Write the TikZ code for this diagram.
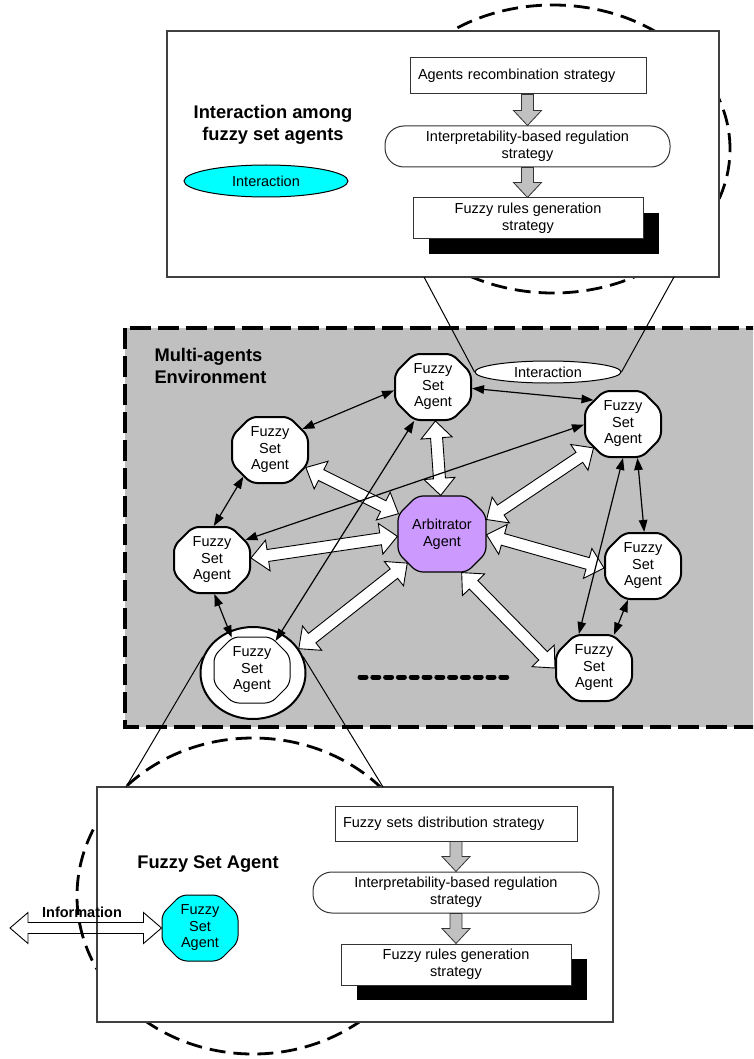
\documentclass[tikz,border=0pt]{standalone}
\usepackage{fontspec}
\setsansfont{Liberation Sans}
\usepackage{tikz}
\usetikzlibrary{arrows.meta, calc, positioning, shapes.geometric, shapes.misc, shadows}
\tikzset{every picture/.style={/utils/exec={\sffamily}}}
\definecolor{envgray}{HTML}{C0C0C0}
\definecolor{arbpurple}{HTML}{CC99FF}
\definecolor{agentcyan}{HTML}{00FFFF}

% fat arrows: style, half shaft, half head, head length, from, to
\newcommand{\fatdouble}[6]{%
  \path[#1] (#5)
    -- ($(#5)!#4!(#6)!#3!90:(#6)$)
    -- ($(#5)!#4!(#6)!#2!90:(#6)$)
    -- ($(#6)!#4!(#5)!#2!-90:(#5)$)
    -- ($(#6)!#4!(#5)!#3!-90:(#5)$)
    -- (#6)
    -- ($(#6)!#4!(#5)!#3!90:(#5)$)
    -- ($(#6)!#4!(#5)!#2!90:(#5)$)
    -- ($(#5)!#4!(#6)!#2!-90:(#6)$)
    -- ($(#5)!#4!(#6)!#3!-90:(#6)$)
    -- cycle;}
\newcommand{\fatsingle}[6]{%
  \path[#1] ($(#5)!#2!90:(#6)$)
    -- ($(#6)!#4!(#5)!#2!-90:(#5)$)
    -- ($(#6)!#4!(#5)!#3!-90:(#5)$)
    -- (#6)
    -- ($(#6)!#4!(#5)!#3!90:(#5)$)
    -- ($(#6)!#4!(#5)!#2!90:(#5)$)
    -- ($(#5)!#2!-90:(#6)$)
    -- cycle;}

\begin{document}
\begin{tikzpicture}[x=1pt, y=-1pt, >={Triangle[length=12pt, width=8.5pt]},
    agent/.style={chamfered rectangle, chamfered rectangle xsep=9pt, chamfered rectangle ysep=10pt,
        rounded corners=6pt, draw, line width=2pt, fill=white, minimum width=76pt, minimum height=66pt,
        inner sep=0pt, align=center, font=\fontsize{14.5}{16.5}\selectfont},
    strat/.style={draw=black!80, line width=1pt, fill=white, inner sep=0pt, align=center,
        font=\fontsize{14.5}{17}\selectfont},
    stadium/.style={strat, rounded corners=19pt},
    castshadow/.style={drop shadow={shadow xshift=16pt, shadow yshift=-15pt, opacity=1, fill=black}},
    zoombox/.style={draw=black!75, line width=1.1pt, fill=white},
    lensdash/.style={line width=2.8pt, dash pattern=on 16pt off 8pt},
    envbox/.style={fill=envgray, line width=3.5pt, dash pattern=on 21pt off 7pt},
    heading/.style={font=\bfseries\fontsize{18.3}{22.5}\selectfont},
    fatarrow/.style={draw, fill=white, line width=0.9pt},
    flowarrow/.style={draw=black!80, fill=envgray, line width=0.8pt},
    infoarrow/.style={draw, line width=0.9pt},
    thinlink/.style={<->, line width=1.2pt},
    zoomline/.style={line width=1pt},
    dotline/.style={line width=5pt, dash pattern=on 6pt off 6.8pt, line cap=round}]
    \clip (0,0) rectangle (753,1059);

    % Zoom lenses
    \draw[lensdash] (553,149) ellipse [x radius=177pt, y radius=144pt];
    \draw[lensdash] (253,896) ellipse [x radius=176pt, y radius=158pt];

    % Upper zoom box
    \node[zoombox, minimum width=552pt, minimum height=246pt] (zoomtop) at (443,154) {};
    \node[heading, align=center] (titletop) at (273,125) {Interaction among\\fuzzy set agents};
    \node[ellipse, draw, line width=1pt, fill=agentcyan, minimum width=164pt, minimum height=32pt,
        inner sep=0pt, font=\fontsize{14.5}{17}\selectfont] (intertop) at (266,181) {Interaction};
    \node[strat, minimum width=236pt, minimum height=36pt, text width=220pt, align=left] (agentsrec) at (528,76) {Agents recombination strategy};
    \node[stadium, minimum width=285pt, minimum height=41pt] (interp) at (527.5,146.5) {Interpretability-based regulation\\strategy};
    \node[strat, castshadow, minimum width=230pt, minimum height=41pt] (rulesgen) at (528,218.5) {Fuzzy rules generation\\strategy};
    \coordinate (f1) at (interp.north |- agentsrec.south);
    \coordinate (f2) at (interp.south |- rulesgen.north);
    \fatsingle{flowarrow}{6pt}{14pt}{15pt}{f1}{interp.north}
    \fatsingle{flowarrow}{6pt}{14pt}{15pt}{interp.south}{f2}

    % Lower zoom box
    \node[zoombox, minimum width=516pt, minimum height=235pt] (zoombot) at (355,904.5) {};
    \node[heading] (titlebot) at (208,864) {Fuzzy Set Agent};
    \node[agent, fill=agentcyan, line width=1pt] (fsaInfo) at (200,928) {Fuzzy\\Set\\Agent};
    \node[strat, minimum width=242pt, minimum height=35pt, text width=226pt, align=left] (fsdist) at (456,823.5) {Fuzzy sets distribution strategy};
    \node[stadium, minimum width=286pt, minimum height=41pt] (interp2) at (456,892.5) {Interpretability-based regulation\\strategy};
    \node[strat, castshadow, minimum width=230pt, minimum height=41pt] (rulesgen2) at (456,964.5) {Fuzzy rules generation\\strategy};
    \coordinate (f3) at (fsdist.south -| interp2.north);
    \coordinate (f4) at (interp2.south |- rulesgen2.north);
    \fatsingle{flowarrow}{6pt}{14pt}{15pt}{f3}{interp2.north}
    \fatsingle{flowarrow}{6pt}{14pt}{15pt}{interp2.south}{f4}
    \coordinate (infoend) at (10,928);
    \fatdouble{infoarrow}{5.5pt}{15.5pt}{18pt}{infoend}{fsaInfo.west}
    \node[font=\bfseries\fontsize{14.5}{17}\selectfont] (infolabel) at (82,912) {Information};

    % Multi-agents environment
    \draw[envbox] (125,328) rectangle (775,727);
    \node[heading, align=left, anchor=west] (envtitle) at (151,366) {Multi-agents\\Environment};
    \node[ellipse, draw, line width=1pt, fill=white, minimum width=146pt, minimum height=22pt,
        inner sep=0pt, font=\fontsize{14.5}{17}\selectfont] (inter) at (548,372) {Interaction};
    \node[agent] (fsaTop) at (433,387) {Fuzzy\\Set\\Agent};
    \node[agent] (fsaUL) at (270,450) {Fuzzy\\Set\\Agent};
    \node[agent] (fsaUR) at (623,424) {Fuzzy\\Set\\Agent};
    \node[agent] (fsaL) at (212,560) {Fuzzy\\Set\\Agent};
    \node[agent] (fsaR) at (643,566) {Fuzzy\\Set\\Agent};
    \node[agent] (fsaBR) at (594,668) {Fuzzy\\Set\\Agent};
    \node[ellipse, draw, line width=2pt, fill=white, minimum width=105pt, minimum height=92pt] (fsaBLo) at (253,673) {};
    \node[agent, line width=1pt] (fsaBL) at (252,670) {Fuzzy\\Set\\Agent};
    \node[agent, fill=arbpurple, line width=1.2pt, minimum width=88pt, minimum height=76pt] (arb) at (442,534) {Arbitrator\\Agent};
    \coordinate (dotA) at (360,677);
    \coordinate (dotB) at (512,677);
    \draw[dotline] (dotA) -- (dotB);

    % Arbitration links
    \fatdouble{fatarrow}{6pt}{15.5pt}{17pt}{arb.92}{fsaTop.274}
    \fatdouble{fatarrow}{6pt}{15.5pt}{17pt}{arb.155}{fsaUL.334}
    \fatdouble{fatarrow}{6pt}{15.5pt}{17pt}{arb.18}{fsaUR.219}
    \fatdouble{fatarrow}{6pt}{15.5pt}{17pt}{arb.183}{fsaL.3}
    \fatdouble{fatarrow}{6pt}{15.5pt}{17pt}{arb.359}{fsaR.183}
    \fatdouble{fatarrow}{6pt}{15.5pt}{17pt}{arb.220}{fsaBLo.28}
    \fatdouble{fatarrow}{6pt}{15.5pt}{17pt}{arb.297}{fsaBR.180}

    % Agent to agent links
    \draw[thinlink] (fsaUL.33) -- (fsaTop.185);
    \draw[thinlink] (fsaTop.-2) -- (fsaUR.141);
    \draw[thinlink] (fsaUL.225) -- (fsaL.87);
    \draw[thinlink] (fsaL.-86) -- (fsaBL.122);
    \draw[thinlink] (fsaBL.51) -- (fsaTop.241);
    \draw[thinlink] (fsaUR.181) -- (fsaL.31);
    \draw[thinlink] (fsaUR.270) -- (fsaBR.114);
    \draw[thinlink] (fsaUR.293) -- (fsaR.88);
    \draw[thinlink] (fsaR.246) -- (fsaBR.59);

    % Zoom lines
    \coordinate (zl) at (424,277);
    \coordinate (zr) at (674,277);
    \coordinate (zbl) at (126,787);
    \coordinate (zbr) at (383,787);
    \draw[zoomline] (zl) -- (inter.west);
    \draw[zoomline] (zr) -- (inter.east);
    \draw[zoomline] (fsaBLo.162) -- (zbl);
    \draw[zoomline] (fsaBLo.18) -- (zbr);
\end{tikzpicture}
\end{document}
